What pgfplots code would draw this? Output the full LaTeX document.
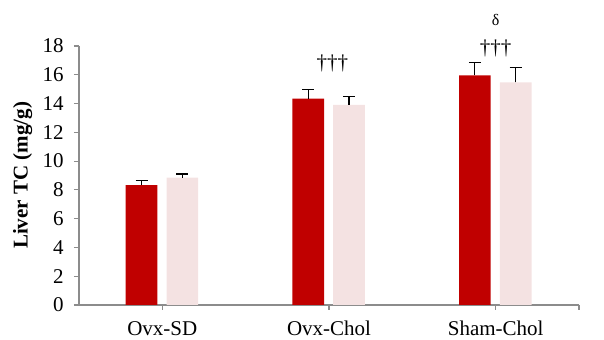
\documentclass[border=0pt]{standalone}
\usepackage{fontspec}
\setmainfont{Liberation Serif}
\usepackage{pgfplots}
\pgfplotsset{compat=1.18}
\definecolor{darkred}{HTML}{C00000}
\definecolor{lightpink}{HTML}{F4E2E2}
\definecolor{axgray}{HTML}{8C8C8C}
\begin{document}
\fontsize{10.5pt}{12pt}\selectfont
\begin{tikzpicture}
\path[use as bounding box] (-39.5pt,-17.5pt) rectangle (262.5pt,152.5pt);
\begin{axis}[
  scale only axis, width=250pt, height=129.5pt,
  at={(0,0)}, anchor=south west,
  xmin=-0.5, xmax=2.5, ymin=0, ymax=18,
  axis x line*=bottom, axis y line*=left,
  axis line style={axgray, line width=0.6pt},
  x axis line style={-}, y axis line style={-},
  tick align=outside, major tick length=2.5pt,
  tick style={axgray, line width=0.6pt},
  xtick={0,1,2,2.5}, xticklabels={Ovx-SD,Ovx-Chol,Sham-Chol,},
  ytick={0,2,...,18},
  /pgf/number format/assume math mode=true,
  ticklabel style={font=\fontsize{10.5pt}{12pt}\selectfont},
  yticklabel style={xshift=-1.5pt},
  xticklabel style={yshift=-2pt},
  ylabel={\textbf{Liver TC (mg/g)}},
  ylabel style={font=\fontsize{10.5pt}{12pt}\selectfont, yshift=-2pt},
  clip=false,
  ybar, bar width=0.19,
  error bars/y dir=plus, error bars/y explicit,
  error bars/error bar style={black, line width=0.6pt},
  error bars/error mark options={rotate=90, black, mark size=3pt, line width=0.6pt},
]
\addplot[fill=darkred, draw=none, bar shift=-0.125] coordinates {
  (0,8.33) +- (0,0.33)
  (1,14.35) +- (0,0.65)
  (2,15.95) +- (0,0.92)
};
\addplot[fill=lightpink, draw=none, bar shift=0.12] coordinates {
  (0,8.85) +- (0,0.25)
  (1,13.9) +- (0,0.57)
  (2,15.47) +- (0,1.01)
};
\node[font=\fontsize{10.5pt}{12pt}\selectfont] at (axis cs:1.02,16.8) {†††};
\node[font=\fontsize{10.5pt}{12pt}\selectfont] at (axis cs:2.0,17.85) {†††};
\node[font=\fontsize{8pt}{9pt}\selectfont] at (axis cs:2.0,19.8) {δ};
\end{axis}
\end{tikzpicture}
\end{document}
